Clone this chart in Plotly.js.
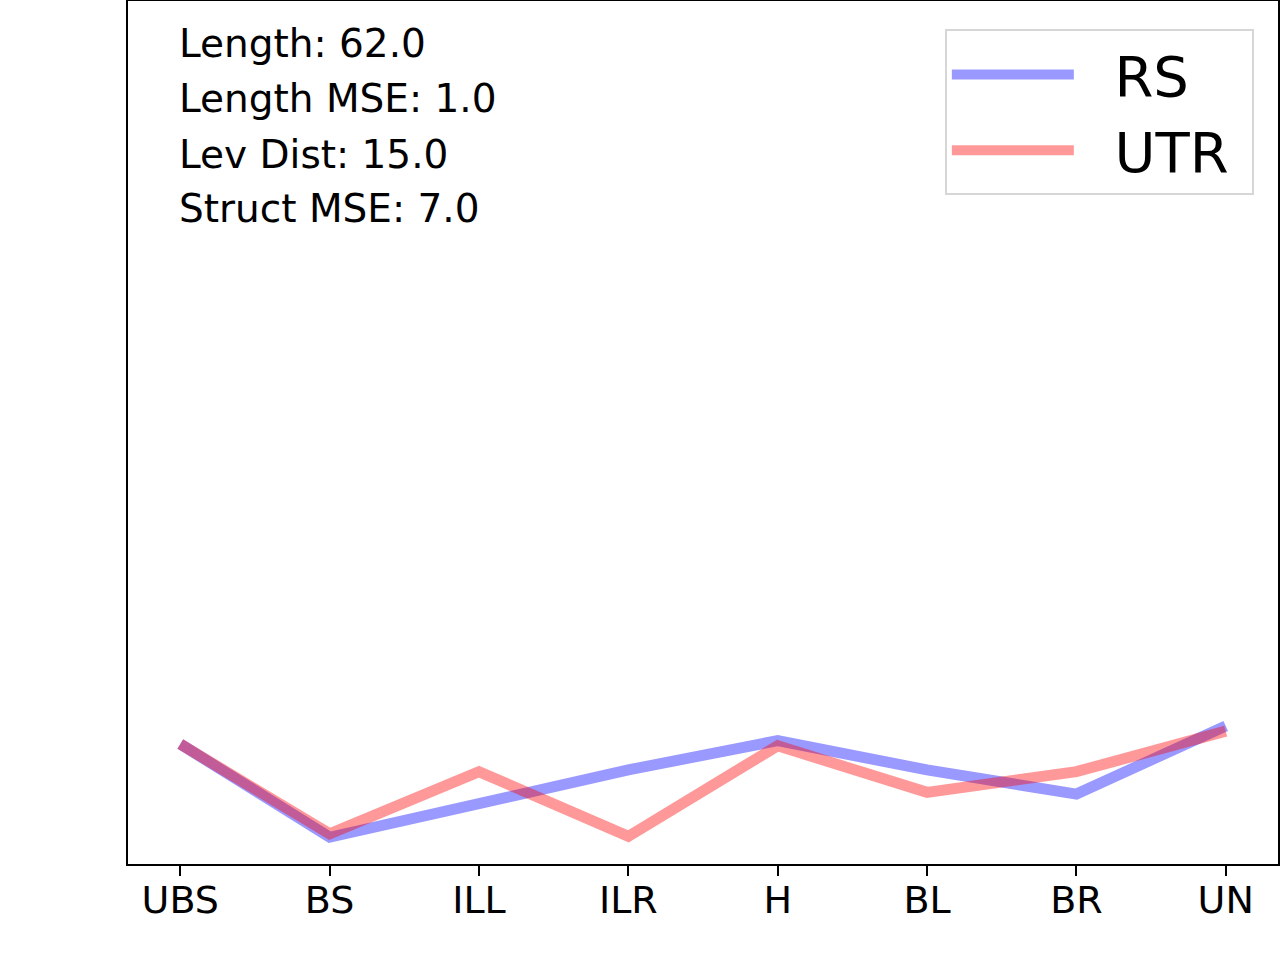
<!DOCTYPE html>
<html>
<head>
<meta charset="utf-8">
<script src="https://cdn.plot.ly/plotly-3.0.1.min.js"></script>
<style>
  html, body { margin: 0; padding: 0; background: #fff; }
  #chart { width: 1280px; height: 960px; }
</style>
</head>
<body>
<div id="chart"></div>
<script>
// categories along the x axis
const categories = ['UBS', 'BS', 'ILL', 'ILR', 'H', 'BL', 'BR', 'UN'];

// series values (y axis has no ticks, so these are on a 0-100 scale)
const rsValues = [13.9, 3.1, 7.0, 10.9, 14.3, 10.9, 8.1, 16.0];
const utrValues = [13.9, 3.5, 10.7, 3.2, 13.7, 8.3, 10.7, 15.4];

// stats text in the top left corner
const statLabels = ['Length', 'Length MSE', 'Lev Dist', 'Struct MSE'];
const statValues = [62.0, 1.0, 15.0, 7.0];

const font = 'DejaVu Sans, sans-serif';
const plotTop = 1;
const plotHeight = 863;
const gap = '\u00a0\u00a0'; // room between legend line and its label
const pad = '\u00a0';       // room on the right of the label

const rsTrace = {
  x: categories,
  y: rsValues,
  type: 'scatter',
  mode: 'lines',
  name: gap + 'RS' + pad,
  line: {color: 'rgba(0,0,255,0.4)', width: 11},
};

const utrTrace = {
  x: categories,
  y: utrValues,
  type: 'scatter',
  mode: 'lines',
  name: gap + 'UTR' + pad,
  line: {color: 'rgba(255,0,0,0.4)', width: 11},
};

// one annotation per line so the spacing matches
const statPixelY = [43, 98.5, 154, 209];
const annotations = statLabels.map((label, i) => ({
  xref: 'paper',
  yref: 'paper',
  x: (177 - 128) / 1150,
  y: 1 - (statPixelY[i] - plotTop) / plotHeight,
  xanchor: 'left',
  yanchor: 'middle',
  showarrow: false,
  text: `${label}: ${statValues[i].toFixed(1)}`,
  font: {family: font, size: 39, color: '#000'},
}));

const layout = {
  width: 1280,
  height: 960,
  margin: {l: 128, r: 2, t: plotTop, b: 96},
  paper_bgcolor: '#fff',
  plot_bgcolor: '#fff',
  showlegend: true,
  legend: {
    x: 0.979,
    y: 0.967,
    xanchor: 'right',
    yanchor: 'top',
    bgcolor: '#fff',
    bordercolor: '#d6d6d6',
    borderwidth: 2,
    font: {family: font, size: 56, color: '#000'},
    itemwidth: 122,
    tracegroupgap: 0,
  },
  xaxis: {
    type: 'category',
    range: [-0.35, 7.35],
    showgrid: false,
    zeroline: false,
    showline: true,
    mirror: true,
    linecolor: '#000',
    linewidth: 2,
    ticks: 'outside',
    ticklen: 10,
    tickwidth: 2,
    tickcolor: '#000',
    ticklabelstandoff: -9,
    tickfont: {family: font, size: 38, color: '#000'},
  },
  yaxis: {
    range: [0, 100],
    showgrid: false,
    zeroline: false,
    showline: true,
    mirror: true,
    linecolor: '#000',
    linewidth: 2,
    showticklabels: false,
    ticks: '',
  },
  annotations: annotations,
};

Plotly.newPlot('chart', [rsTrace, utrTrace], layout, {displayModeBar: false, staticPlot: true});
</script>
</body>
</html>
